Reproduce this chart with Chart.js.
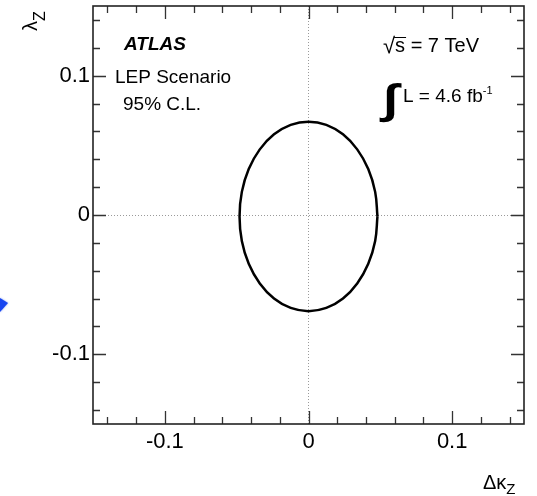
<!DOCTYPE html>
<html>
<head>
<meta charset="utf-8">
<script src="https://cdn.jsdelivr.net/npm/chart.js@4"></script>
<style>
  body { margin: 0; background: #fff; }
  #wrap { width: 537px; height: 496px; }
</style>
</head>
<body>
<div id="wrap"><canvas id="contourChart"></canvas></div>
<script>
// 95% C.L. contour (delta kappa_Z, lambda_Z)
var kappaZ = [0.0480, 0.0464, 0.0416, 0.0339, 0.0240, 0.0124, 0.0000, -0.0124, -0.0240, -0.0339, -0.0416, -0.0464,
              -0.0480, -0.0464, -0.0416, -0.0339, -0.0240, -0.0124, 0.0000, 0.0124, 0.0240, 0.0339, 0.0416, 0.0464, 0.0480];
var lambdaZ = [-0.0010, 0.0166, 0.0330, 0.0471, 0.0579, 0.0647, 0.0670, 0.0647, 0.0579, 0.0471, 0.0330, 0.0166,
               -0.0010, -0.0186, -0.0350, -0.0491, -0.0599, -0.0667, -0.0690, -0.0667, -0.0599, -0.0491, -0.0350, -0.0186, -0.0010];
var axisMin = -0.15;
var axisMax = 0.15;
var tickValues = [-0.14, -0.12, -0.10, -0.08, -0.06, -0.04, -0.02, 0, 0.02, 0.04, 0.06, 0.08, 0.10, 0.12, 0.14];
var majorTicks = [-0.1, 0, 0.1];
var majorLabels = ['-0.1', '0', '0.1'];

var FONT = '"Liberation Sans", Arial, Helvetica, sans-serif';

function majorIndex(v) {
    for (var i = 0; i < majorTicks.length; i++) {
        if (Math.abs(majorTicks[i] - v) < 1e-9) return i;
    }
    return -1;
}
function tickLabel(v) {
    var i = majorIndex(v);
    return i < 0 ? '' : majorLabels[i];
}
function setTicks(s) {
    s.ticks = tickValues.map(function (v) { return { value: v }; });
}
function zeroLine(ctx) {
    return ctx.tick && Math.abs(ctx.tick.value) < 1e-9 ? '#9a9a9a' : 'rgba(0,0,0,0)';
}
function noPadding(s) {
    s.paddingTop = 0; s.paddingBottom = 0; s.paddingLeft = 0; s.paddingRight = 0;
}

var points = [];
for (var i = 0; i < kappaZ.length; i++) {
    points.push({ x: kappaZ[i], y: lambdaZ[i] });
}

// ROOT style frame: inward ticks on all four sides plus the labels
var rootFrame = {
    id: 'rootFrame',
    afterDraw: function (chart) {
        var ctx = chart.ctx;
        var a = chart.chartArea;
        var xs = chart.scales.x, ys = chart.scales.y;
        ctx.save();
        ctx.strokeStyle = '#333';
        ctx.lineWidth = 1.3;
        ctx.beginPath();
        xs.ticks.forEach(function (t) {
            var px = Math.round(xs.getPixelForValue(t.value)) + 0.5;
            var len = majorIndex(t.value) >= 0 ? 13 : 7;
            ctx.moveTo(px, a.bottom); ctx.lineTo(px, a.bottom - len);
            ctx.moveTo(px, a.top); ctx.lineTo(px, a.top + len);
        });
        ys.ticks.forEach(function (t) {
            var py = Math.round(ys.getPixelForValue(t.value)) + 0.5;
            var len = majorIndex(t.value) >= 0 ? 13 : 7;
            ctx.moveTo(a.left, py); ctx.lineTo(a.left + len, py);
            ctx.moveTo(a.right, py); ctx.lineTo(a.right - len, py);
        });
        ctx.stroke();
        ctx.strokeStyle = '#222';
        ctx.lineWidth = 1.6;
        ctx.strokeRect(a.left, a.top, a.right - a.left, a.bottom - a.top);

        ctx.fillStyle = '#000';
        ctx.textBaseline = 'alphabetic';
        ctx.textAlign = 'left';
        ctx.font = 'italic bold 19px ' + FONT;
        ctx.fillText('ATLAS', 124, 50);
        ctx.font = '19px ' + FONT;
        ctx.fillText('LEP Scenario', 115, 83);
        ctx.fillText('95% C.L.', 123, 110);

        // sqrt(s) = 7 TeV
        var x0 = 383;
        ctx.font = '22px ' + FONT;
        ctx.fillText('\u221A', x0, 53);
        var w = ctx.measureText('\u221A').width;
        ctx.font = '20px ' + FONT;
        ctx.fillText('s', x0 + w, 52);
        var ws = ctx.measureText('s').width;
        ctx.lineWidth = 1;
        ctx.strokeStyle = '#000';
        ctx.beginPath();
        ctx.moveTo(x0 + w - 1, 37.5); ctx.lineTo(x0 + w + ws + 1, 37.5);
        ctx.stroke();
        ctx.fillText(' = 7 TeV', x0 + w + ws, 52);

        // integrated luminosity
        ctx.save();
        ctx.translate(383, 113);
        ctx.scale(1.5, 1.15);
        ctx.font = 'bold 36px ' + FONT;
        ctx.fillText('\u222B', 0, 0);
        ctx.restore();
        ctx.font = '19px ' + FONT;
        ctx.fillText('L = 4.6 fb', 403, 102);
        var wl = ctx.measureText('L = 4.6 fb').width;
        ctx.font = '11px ' + FONT;
        ctx.fillText('-1', 403 + wl, 94);

        // axis titles
        ctx.save();
        ctx.translate(37, 31);
        ctx.rotate(-Math.PI / 2);
        ctx.font = '20px ' + FONT;
        ctx.fillText('\u03BB', 0, 0);
        var wlam = ctx.measureText('\u03BB').width;
        ctx.font = '16px ' + FONT;
        ctx.fillText('Z', wlam, 8);
        ctx.restore();

        ctx.font = '20px ' + FONT;
        ctx.fillText('\u0394\u03BA', 483, 489);
        var wdk = ctx.measureText('\u0394\u03BA').width;
        ctx.font = '15px ' + FONT;
        ctx.fillText('Z', 483 + wdk, 494);

        // blue pointer at the left edge
        ctx.fillStyle = '#1846f0';
        ctx.shadowColor = 'rgba(24,70,240,0.6)';
        ctx.shadowBlur = 2;
        ctx.beginPath();
        ctx.moveTo(0, 298); ctx.lineTo(8, 303); ctx.lineTo(0, 312);
        ctx.closePath();
        ctx.fill();
        ctx.restore();
    }
};

var chartElement = document.getElementById('contourChart').getContext('2d');
var chartObject = new Chart(chartElement, {
    type: 'scatter',
    data: {
        datasets: [{
            data: points,
            showLine: true,
            borderColor: '#000',
            borderWidth: 2.5,
            pointRadius: 0,
            tension: 0.4,
            fill: false
        }]
    },
    options: {
        responsive: true,
        maintainAspectRatio: false,
        animation: false,
        layout: { padding: { top: 6, right: 13, left: 0, bottom: 0 } },
        plugins: {
            legend: { display: false },
            tooltip: { enabled: false }
        },
        scales: {
            x: {
                type: 'linear',
                min: axisMin,
                max: axisMax,
                afterBuildTicks: setTicks,
                afterFit: function (s) { s.height = 72; noPadding(s); },
                ticks: {
                    autoSkip: false,
                    maxRotation: 0,
                    padding: 5,
                    color: '#000',
                    font: { family: FONT, size: 22 },
                    callback: tickLabel
                },
                grid: { drawTicks: false, color: zeroLine, lineWidth: 1 },
                border: { display: false, dash: [1, 2] }
            },
            y: {
                type: 'linear',
                min: axisMin,
                max: axisMax,
                afterBuildTicks: setTicks,
                afterFit: function (s) { s.width = 93; noPadding(s); },
                ticks: {
                    autoSkip: false,
                    padding: 3,
                    color: '#000',
                    font: { family: FONT, size: 22 },
                    callback: tickLabel
                },
                grid: { drawTicks: false, color: zeroLine, lineWidth: 1 },
                border: { display: false, dash: [1, 2] }
            }
        }
    },
    plugins: [rootFrame]
});
</script>
</body>
</html>
